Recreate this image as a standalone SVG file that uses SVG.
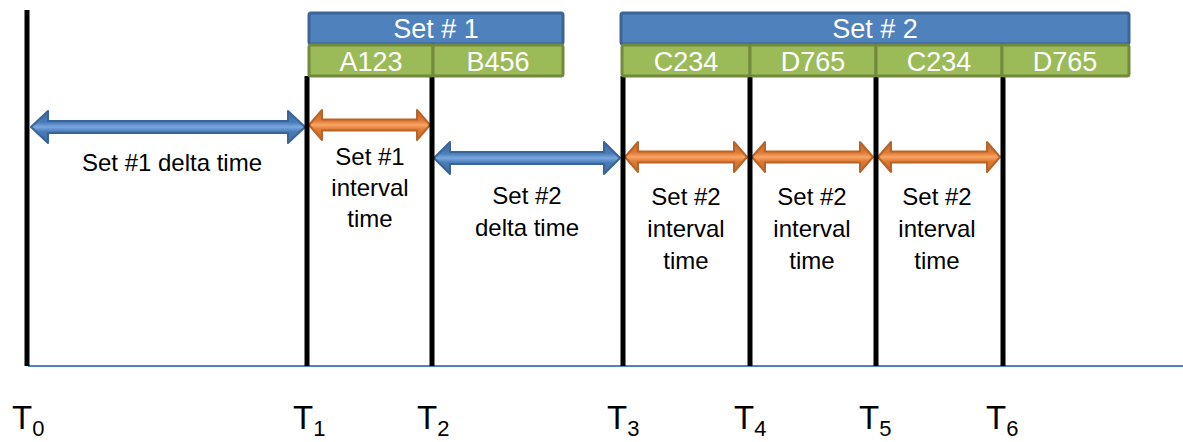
<svg xmlns="http://www.w3.org/2000/svg" width="1183" height="442" viewBox="0 0 1183 442">
<defs>
<linearGradient id="gBlue" x1="0" y1="0" x2="0" y2="1">
<stop offset="0" stop-color="#3F6A9E"/>
<stop offset="0.36" stop-color="#4A7DBA"/>
<stop offset="0.5" stop-color="#7AA8E0"/>
<stop offset="0.64" stop-color="#4A7DBA"/>
<stop offset="1" stop-color="#3F6A9E"/>
</linearGradient>
<linearGradient id="gOrange" x1="0" y1="0" x2="0" y2="1">
<stop offset="0" stop-color="#C06A2C"/>
<stop offset="0.36" stop-color="#E07A34"/>
<stop offset="0.5" stop-color="#FBA566"/>
<stop offset="0.64" stop-color="#E07A34"/>
<stop offset="1" stop-color="#C06A2C"/>
</linearGradient>
</defs>
<style>
.setbox{fill:#4F81BD;stroke:#3C6494;stroke-width:3}
.item{fill:#9BBB59;stroke:#718A3E;stroke-width:3}
.boxtxt{font-family:"Liberation Sans",Arial,sans-serif;font-size:27px;fill:#FFFFFF;text-anchor:middle}
.lbl{font-family:"Liberation Sans",Arial,sans-serif;font-size:24px;fill:#000000;text-anchor:middle}
.tl{font-family:"Liberation Sans",Arial,sans-serif;font-size:33px;fill:#000000}
.sub{font-size:22px}
.vline{stroke:#000000;stroke-width:5}
.ab{fill:url(#gBlue);stroke:#3B6496;stroke-width:2;stroke-linejoin:round}
.ao{fill:url(#gOrange);stroke:#B7642A;stroke-width:2;stroke-linejoin:round}
</style>

<line id="axis" x1="28" y1="366" x2="1183" y2="366" stroke="#4F81BD" stroke-width="1.8"/>

<g id="connectors">
<path class="ab" d="M31,127 L48,111 L48,121 L288,121 L288,111 L305,127 L288,143 L288,133 L48,133 L48,143 Z"/>
<path class="ao" d="M309,125 L322,110 L322,119.5 L417,119.5 L417,110 L430,125 L417,140 L417,130.5 L322,130.5 L322,140 Z"/>
<path class="ab" d="M434,158 L450,142 L450,152 L604,152 L604,142 L620,158 L604,174 L604,164 L450,164 L450,174 Z"/>
<path class="ao" d="M625,157 L638,142 L638,151.5 L734,151.5 L734,142 L747,157 L734,172 L734,162.5 L638,162.5 L638,172 Z"/>
<path class="ao" d="M752,157 L765,142 L765,151.5 L860,151.5 L860,142 L873,157 L860,172 L860,162.5 L765,162.5 L765,172 Z"/>
<path class="ao" d="M878,157 L891,142 L891,151.5 L987,151.5 L987,142 L1000,157 L987,172 L987,162.5 L891,162.5 L891,172 Z"/>
</g>

<g id="t0"><line class="vline" x1="27" y1="10" x2="27" y2="366"/><text class="tl" x="12" y="429">T<tspan class="sub" dy="7">0</tspan></text></g>
<g id="t1"><line class="vline" x1="307" y1="76" x2="307" y2="366"/><text class="tl" x="293" y="429">T<tspan class="sub" dy="7">1</tspan></text></g>
<g id="t2"><line class="vline" x1="432" y1="76" x2="432" y2="366"/><text class="tl" x="417" y="429">T<tspan class="sub" dy="7">2</tspan></text></g>
<g id="t3"><line class="vline" x1="623" y1="76" x2="623" y2="366"/><text class="tl" x="607" y="429">T<tspan class="sub" dy="7">3</tspan></text></g>
<g id="t4"><line class="vline" x1="750" y1="76" x2="750" y2="366"/><text class="tl" x="734" y="429">T<tspan class="sub" dy="7">4</tspan></text></g>
<g id="t5"><line class="vline" x1="876" y1="76" x2="876" y2="366"/><text class="tl" x="859" y="429">T<tspan class="sub" dy="7">5</tspan></text></g>
<g id="t6"><line class="vline" x1="1003" y1="76" x2="1003" y2="366"/><text class="tl" x="986" y="429">T<tspan class="sub" dy="7">6</tspan></text></g>

<g id="set1">
<rect class="setbox" x="309" y="13" width="254" height="31" rx="2"/>
<text class="boxtxt" x="436" y="38">Set # 1</text>
</g>
<g id="a123"><rect class="item" x="309" y="45" width="124" height="31" rx="2"/><text class="boxtxt" x="371" y="71">A123</text></g>
<g id="b456"><rect class="item" x="433" y="45" width="130" height="31" rx="2"/><text class="boxtxt" x="498" y="71">B456</text></g>

<g id="set2">
<rect class="setbox" x="621" y="13" width="508" height="31" rx="2"/>
<text class="boxtxt" x="875" y="38">Set # 2</text>
</g>
<g id="c234a"><rect class="item" x="622" y="45" width="128" height="31" rx="2"/><text class="boxtxt" x="686" y="71">C234</text></g>
<g id="d765a"><rect class="item" x="750" y="45" width="126" height="31" rx="2"/><text class="boxtxt" x="813" y="71">D765</text></g>
<g id="c234b"><rect class="item" x="876" y="45" width="126" height="31" rx="2"/><text class="boxtxt" x="939" y="71">C234</text></g>
<g id="d765b"><rect class="item" x="1002" y="45" width="127" height="31" rx="2"/><text class="boxtxt" x="1065" y="71">D765</text></g>

<g id="labels">
<text class="lbl" x="172" y="171">Set #1 delta time</text>
<text class="lbl" x="370" y="165">Set #1</text>
<text class="lbl" x="370" y="196">interval</text>
<text class="lbl" x="370" y="227">time</text>
<text class="lbl" x="527" y="204">Set #2</text>
<text class="lbl" x="527" y="236">delta time</text>
<text class="lbl" x="686" y="205">Set #2</text>
<text class="lbl" x="686" y="237">interval</text>
<text class="lbl" x="686" y="269">time</text>
<text class="lbl" x="812" y="205">Set #2</text>
<text class="lbl" x="812" y="237">interval</text>
<text class="lbl" x="812" y="269">time</text>
<text class="lbl" x="937" y="205">Set #2</text>
<text class="lbl" x="937" y="237">interval</text>
<text class="lbl" x="937" y="269">time</text>
</g>
</svg>
